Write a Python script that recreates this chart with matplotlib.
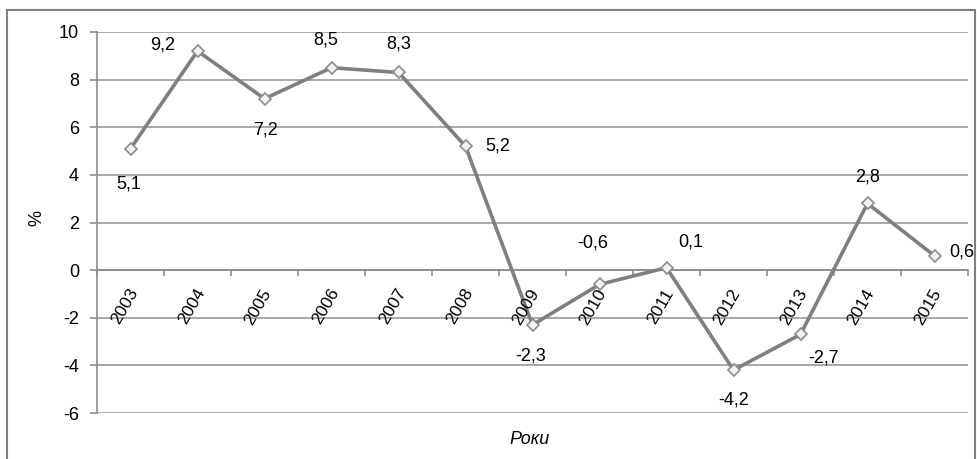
import matplotlib.pyplot as plt
from matplotlib.patches import Rectangle

years = ["2003", "2004", "2005", "2006", "2007", "2008", "2009",
         "2010", "2011", "2012", "2013", "2014", "2015"]
values = [5.1, 9.2, 7.2, 8.5, 8.3, 5.2, -2.3, -0.6, 0.1, -4.2, -2.7, 2.8, 0.6]
# label offsets in pixels (dx, dy)
offsets = [(-2, -35), (-35, 6), (1, -31), (-6, 28), (0, 28), (32, 0), (-2, -31),
           (-7, 41), (24, 26), (0, -30), (23, -24), (0, 26), (27, 4)]

plt.rcParams['font.family'] = ['Liberation Sans', 'DejaVu Sans']
fs = 13

fig = plt.figure(figsize=(9.77, 4.59), dpi=100)
fig.patches.append(Rectangle((7 / 977, -0.1), 968 / 977, 1 - 10 / 459 + 0.1,
                             transform=fig.transFigure, fill=False,
                             edgecolor="#7f7f7f", linewidth=1.5))
ax = fig.add_axes([97 / 977, 1 - 413 / 459, (968 - 97) / 977, (413 - 32) / 459])

x = list(range(len(years)))
ax.plot(x, values, color="#7f7f7f", linewidth=2.6, marker="D", markersize=6.5,
        markerfacecolor="#f2f2f2", markeredgecolor="#8c8c8c", markeredgewidth=1.2,
        zorder=3)

for xi, v, (dx, dy) in zip(x, values, offsets):
    ax.annotate(f"{v:.1f}".replace(".", ","), (xi, v), xytext=(dx, dy),
                textcoords="offset pixels", ha="center", va="center", fontsize=fs)

ax.set_xlim(-0.5, len(years) - 0.5)
ax.set_ylim(-6, 10)
ax.set_yticks(range(-6, 11, 2))
ax.set_yticklabels([str(t) for t in range(-6, 11, 2)], fontsize=fs)
ax.grid(axis="y", color="#999999", linewidth=1.2)
ax.set_axisbelow(True)

for s in ["top", "right", "bottom"]:
    ax.spines[s].set_visible(False)
ax.spines["left"].set_color("#8c8c8c")
ax.spines["left"].set_linewidth(1.2)
ax.tick_params(axis="y", length=5, color="#8c8c8c", width=1.2, pad=8)

# x axis at zero with ticks between categories
ax.axhline(0, color="#8c8c8c", linewidth=1.2, zorder=1)
ax.set_xticks([])
for b in range(len(years) + 1):
    ax.plot([b - 0.5, b - 0.5], [0, -0.2], color="#8c8c8c", linewidth=1.2,
            clip_on=False, zorder=1)
for xi, yr in zip(x, years):
    ax.annotate(yr, (xi, 0), xytext=(10, -16), textcoords="offset pixels",
                rotation=60, ha="right", va="top", fontsize=12.5)

fig.text(37 / 977, 1 - 218 / 459, "%", fontsize=fs, rotation=90,
         ha="center", va="center")
fig.text(530 / 977, 1 - 440 / 459, "Роки", fontsize=fs, style="italic",
         ha="center", va="center")

fig.savefig("out.png", dpi=100)
